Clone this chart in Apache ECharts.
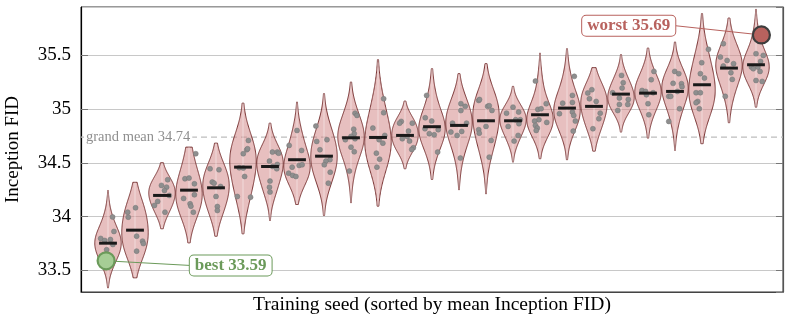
<!DOCTYPE html>
<html><head><meta charset="utf-8">
<script src="https://cdn.jsdelivr.net/npm/echarts@6/dist/echarts.min.js"></script>
<style>html,body{margin:0;padding:0;background:#fff}#c{width:791px;height:323px}</style>
</head><body><div id="c"></div>
<script>
// ---- data ----
const means = [33.754, 33.875, 34.198, 34.247, 34.269, 34.461, 34.467, 34.530, 34.563, 34.734,
  34.737, 34.756, 34.837, 34.849, 34.892, 34.892, 34.948, 35.010, 35.026, 35.140,
  35.149, 35.165, 35.227, 35.382, 35.413];
const violinLow = [33.339, 33.432, 33.888, 33.757, 33.819, 33.841, 33.965, 34.114, 34.012, 34.130,
  34.098, 34.446, 34.347, 34.251, 34.213, 34.508, 34.539, 34.530, 34.610, 34.787,
  34.731, 34.616, 34.679, 34.874, 35.019];
const violinHigh = [34.244, 34.320, 34.502, 34.647, 34.684, 35.056, 34.870, 35.066, 35.144, 35.252,
  35.460, 35.075, 35.376, 35.330, 35.423, 35.212, 35.522, 35.562, 35.386, 35.507,
  35.568, 35.624, 35.888, 35.847, 35.928];
const pointsY = [
  [33.998, 33.863, 33.798, 33.779, 33.788, 33.742, 33.693, 33.62, 33.59],
  [34.042, 34.083, 33.996, 33.819, 33.773, 33.751, 33.680],
  [34.344, 34.291, 34.275, 34.244, 34.198, 34.142, 34.105, 34.042],
  [34.586, 34.353, 34.359, 34.306, 34.204, 34.120, 34.098, 34.042, 34.17],
  [34.446, 34.437, 34.322, 34.312, 34.281, 34.188, 34.095, 34.058],
  [34.709, 34.623, 34.632, 34.586, 34.455, 34.452, 34.374, 34.188, 34.182],
  [34.601, 34.601, 34.59, 34.517, 34.486, 34.467, 34.446, 34.331, 34.275, 34.229],
  [34.802, 34.663, 34.616, 34.461, 34.477, 34.483, 34.405, 34.384, 34.374],
  [34.843, 34.700, 34.716, 34.623, 34.530, 34.517, 34.483, 34.414, 34.312],
  [34.963, 34.942, 34.814, 34.772, 34.747, 34.716, 34.725, 34.647, 34.604, 34.424],
  [35.097, 34.967, 34.824, 34.756, 34.716, 34.684, 34.591, 34.535, 34.461],
  [34.886, 34.870, 34.870, 34.796, 34.747, 34.725, 34.703, 34.641, 34.626],
  [35.128, 34.920, 34.889, 34.818, 34.772, 34.762, 34.809, 34.601],
  [35.051, 35.026, 34.987, 34.870, 34.870, 34.787, 34.756, 34.793, 34.545],
  [35.081, 35.09, 35.026, 35.032, 34.988, 34.840, 34.809, 34.777, 34.709, 34.554],
  [35.019, 34.963, 34.973, 34.902, 34.902, 34.840, 34.865, 34.756, 34.703],
  [35.261, 35.051, 34.998, 35.004, 34.902, 34.889, 34.877, 34.849, 34.824, 34.802],
  [35.305, 35.128, 35.056, 35.063, 34.958, 34.973, 34.942, 34.889, 34.796],
  [35.150, 35.181, 35.097, 35.072, 34.963, 34.911, 34.818],
  [35.314, 35.246, 35.196, 35.153, 35.103, 35.091, 35.044, 35.044, 34.988],
  [35.351, 35.274, 35.174, 35.165, 35.134, 35.153, 35.051, 34.948],
  [35.351, 35.330, 35.240, 35.237, 35.209, 35.119, 35.119, 35.165, 35.004, 34.886],
  [35.556, 35.432, 35.330, 35.289, 35.153, 35.153, 35.072, 35.060, 35.004],
  [35.609, 35.484, 35.453, 35.401, 35.423, 35.339, 35.277, 35.119],
  [35.516, 35.500, 35.444, 35.391, 35.376, 35.391, 35.351, 35.267, 35.258, 35.69]
];
const pointsJitter = [
  [0.17, 0.22, -0.27, -0.12, 0.09, 0.18, -0.05, 0.05, -0.07],
  [-0.27, 0.02, -0.25, 0.06, 0.28, 0.31, 0.06],
  [0.21, -0.02, 0.17, 0.09, 0.27, -0.16, -0.28, 0.11],
  [0.25, -0.15, 0.0, 0.2, 0.2, 0.04, 0.07, 0.16, -0.2],
  [-0.22, 0.11, -0.14, -0.07, 0.17, 0.0, 0.05, 0.05],
  [0.2, 0.14, 0.17, 0.01, -0.14, 0.01, 0.06, -0.21, 0.28],
  [0.09, 0.27, 0.32, -0.02, 0.27, 0.1, 0.25, 0.0, -0.02, 0.0],
  [0.0, -0.29, 0.17, -0.18, 0.08, 0.19, -0.31, -0.16, -0.04],
  [-0.3, -0.27, 0.11, -0.15, 0.22, 0.07, 0.01, 0.23, 0.16],
  [0.15, 0.22, 0.1, 0.12, 0.0, -0.21, 0.15, 0.0, 0.12, -0.06],
  [0.21, 0.21, -0.19, 0.25, 0.04, 0.18, -0.06, 0.06, -0.04],
  [-0.14, -0.2, 0.27, 0.13, 0.08, -0.1, 0.17, 0.31, 0.25],
  [-0.2, -0.25, -0.01, -0.26, -0.1, 0.08, 0.23, 0.21],
  [0.07, 0.23, 0.07, -0.24, 0.28, -0.3, -0.07, 0.1, 0.05],
  [-0.27, -0.24, 0.06, 0.12, 0.22, 0.0, -0.27, -0.25, 0.19, 0.12],
  [0.0, -0.24, 0.21, 0.1, 0.27, -0.18, 0.22, 0.19, 0.04],
  [-0.17, 0.23, -0.08, 0.04, -0.04, -0.2, 0.25, -0.17, -0.1, -0.14],
  [0.27, 0.2, -0.16, 0.2, -0.28, 0.2, 0.25, 0.31, 0.23],
  [-0.23, -0.08, -0.17, 0.08, 0.23, 0.18, -0.04],
  [0.02, 0.08, 0.04, -0.31, -0.06, 0.27, -0.06, 0.25, -0.12],
  [0.22, 0.12, -0.22, -0.09, -0.06, 0.19, 0.0, 0.03],
  [-0.01, 0.14, -0.07, 0.24, 0.26, -0.23, -0.16, 0.09, 0.17, -0.23],
  [0.24, -0.01, -0.06, 0.09, -0.22, -0.06, -0.16, -0.22, -0.1],
  [-0.21, -0.32, -0.07, -0.21, 0.17, 0.07, 0.12, -0.14],
  [0.0, 0.27, 0.17, -0.17, -0.1, 0.07, 0.15, 0.0, 0.23, 0.2]
];
const grandMean = 34.74;
const grandMeanText = 'grand mean 34.74';
const annText = ['best 33.59', 'worst 35.69'];
const annPointX = [-0.07, 24.2];
const annPointY = [33.59, 35.69];
const annLabelX = [3.03, 21.01];
const annLabelY = [33.547, 35.776];

// ---- style constants ----
const HALF_W = 0.49, BAR_HALF = 0.33, BW_ADJ = 1.55;
const FONT = '"Liberation Serif", "Times New Roman", serif';
const annStyle = [
  {fill: '#a6cd95', stroke: '#6b9a5a', text: '#6b9a5a', align: 'left', circleStroke: '#6b9a5a'},
  {fill: '#b8625e', stroke: '#b8625e', text: '#b8625e', align: 'right', circleStroke: '#3d3d3d'}
];

// KDE outline (data space) from the read points
function profile(ys, lo, hi) {
  const n = ys.length;
  const m = ys.reduce((a, b) => a + b, 0) / n;
  const sd = Math.sqrt(ys.reduce((a, b) => a + (b - m) * (b - m), 0) / (n - 1));
  const bw = sd * Math.pow(n, -0.2) * BW_ADJ;
  const steps = 120, out = [];
  let mx = 0;
  for (let k = 0; k <= steps; k++) {
    const y = lo + (hi - lo) * k / steps;
    let d = 0;
    ys.forEach(v => { const z = (y - v) / bw; d += Math.exp(-0.5 * z * z); });
    out.push({y: y, d: d});
    if (d > mx) mx = d;
  }
  return out.map(p => ({y: p.y, w: p.d / mx}));
}
const profiles = pointsY.map((ys, i) => profile(ys, violinLow[i], violinHigh[i]));

const scatterData = [];
pointsY.forEach((ys, i) => ys.forEach((y, k) => scatterData.push([i + pointsJitter[i][k], y])));

const chart = echarts.init(document.getElementById('c'), null, {renderer: 'canvas'});
chart.setOption({
  animation: false,
  backgroundColor: '#fff',
  grid: {left: 81, right: 8, top: 7, bottom: 31, show: true, borderColor: '#333', borderWidth: 1,
         backgroundColor: 'transparent', containLabel: false, outerBoundsMode: 'none'},
  xAxis: {
    type: 'value', min: -1, max: 25,
    axisLine: {show: true, onZero: false, lineStyle: {color: '#444', width: 1.2}},
    axisTick: {show: false}, axisLabel: {show: false}, splitLine: {show: false},
    name: 'Training seed (sorted by mean Inception FID)', nameLocation: 'middle', nameGap: 3,
    nameTextStyle: {fontFamily: FONT, fontSize: 19.5, color: '#000', verticalAlign: 'top'}
  },
  yAxis: [{
    type: 'value', min: 33.3, max: 35.95, splitNumber: 5,
    axisLine: {show: true, onZero: false, lineStyle: {color: '#000', width: 1.2}},
    axisTick: {show: true, inside: true, length: 7, lineStyle: {color: '#777'}},
    axisLabel: {fontFamily: FONT, fontSize: 19, color: '#000', margin: 10, showMinLabel: false, showMaxLabel: false},
    splitLine: {show: true, lineStyle: {color: '#c8c8c8', width: 1}},
    name: 'Inception FID', nameLocation: 'middle', nameGap: 58,
    nameTextStyle: {fontFamily: FONT, fontSize: 19, color: '#000'}
  }, {
    type: 'value', min: 33.3, max: 35.95, splitNumber: 5, position: 'right',
    axisLine: {show: true, onZero: false, lineStyle: {color: '#555', width: 1.2}},
    axisTick: {show: true, inside: true, length: 7, lineStyle: {color: '#777'}},
    axisLabel: {show: false}, splitLine: {show: false}
  }],
  series: [
    { // grand mean line
      type: 'custom', z: 1, clip: false,
      data: [[-1, grandMean]],
      renderItem: function (params, api) {
        const a = api.coord([-1, grandMean]), b = api.coord([25, grandMean]);
        return {type: 'group', children: [
          {type: 'line', shape: {x1: a[0], y1: a[1], x2: b[0], y2: b[1]},
           style: {stroke: '#bdbdbd', lineWidth: 1.2, lineDash: [6, 4]}},
          {type: 'text', x: a[0] + 3, y: a[1], z2: 5,
           style: {text: grandMeanText, fill: '#8f8f8f', fontFamily: FONT, fontSize: 14.5,
                   align: 'left', verticalAlign: 'middle', backgroundColor: '#fff', padding: [0, 2]}}
        ]};
      }
    },
    { // violins
      type: 'custom', z: 2,
      data: means.map((m, i) => [i, m]),
      renderItem: function (params, api) {
        const i = params.dataIndex, prof = profiles[i];
        const right = prof.map(p => api.coord([i + p.w * HALF_W, p.y]));
        const left = prof.slice().reverse().map(p => api.coord([i - p.w * HALF_W, p.y]));
        const t = api.coord([i, violinHigh[i]]), b = api.coord([i, violinLow[i]]);
        return {type: 'group', children: [
          {type: 'polygon', shape: {points: right.concat(left)},
           style: {fill: 'rgba(212,138,138,0.55)', stroke: '#7a3535', lineWidth: 1}},
          {type: 'line', shape: {x1: t[0], y1: t[1], x2: b[0], y2: b[1]},
           style: {stroke: 'rgba(255,255,255,0.45)', lineWidth: 1}}
        ]};
      }
    },
    { // points
      type: 'scatter', z: 3, data: scatterData, symbolSize: 5,
      itemStyle: {color: '#8e8e8e', borderColor: '#747474', borderWidth: 0.5, opacity: 1}
    },
    { // mean bars
      type: 'custom', z: 4,
      data: means.map((m, i) => [i, m]),
      renderItem: function (params, api) {
        const i = params.dataIndex;
        const a = api.coord([i - BAR_HALF, means[i]]), b = api.coord([i + BAR_HALF, means[i]]);
        return {type: 'line', shape: {x1: a[0], y1: a[1], x2: b[0], y2: b[1]},
                style: {stroke: '#1a1a1a', lineWidth: 3}};
      }
    },
    { // best / worst annotations
      type: 'custom', z: 5, clip: false,
      data: annPointX.map((x, k) => [x, annPointY[k]]),
      renderItem: function (params, api) {
        const k = params.dataIndex, s = annStyle[k];
        const p = api.coord([annPointX[k], annPointY[k]]);
        const l = api.coord([annLabelX[k], annLabelY[k]]);
        return {type: 'group', children: [
          {type: 'line', shape: {x1: p[0], y1: p[1], x2: l[0], y2: l[1]},
           style: {stroke: s.stroke, lineWidth: 1}},
          {type: 'circle', shape: {cx: p[0], cy: p[1], r: 8.5},
           style: {fill: s.fill, stroke: s.circleStroke, lineWidth: 2.2}},
          {type: 'text', x: l[0], y: l[1],
           style: {text: annText[k], fill: s.text, fontFamily: FONT, fontSize: 17, fontWeight: 'bold',
                   align: s.align, verticalAlign: 'middle', backgroundColor: '#fff',
                   borderColor: s.stroke, borderWidth: 1, borderRadius: 4, padding: [2, 5, 1, 5]}}
        ]};
      }
    }
  ]
});
</script></body></html>
